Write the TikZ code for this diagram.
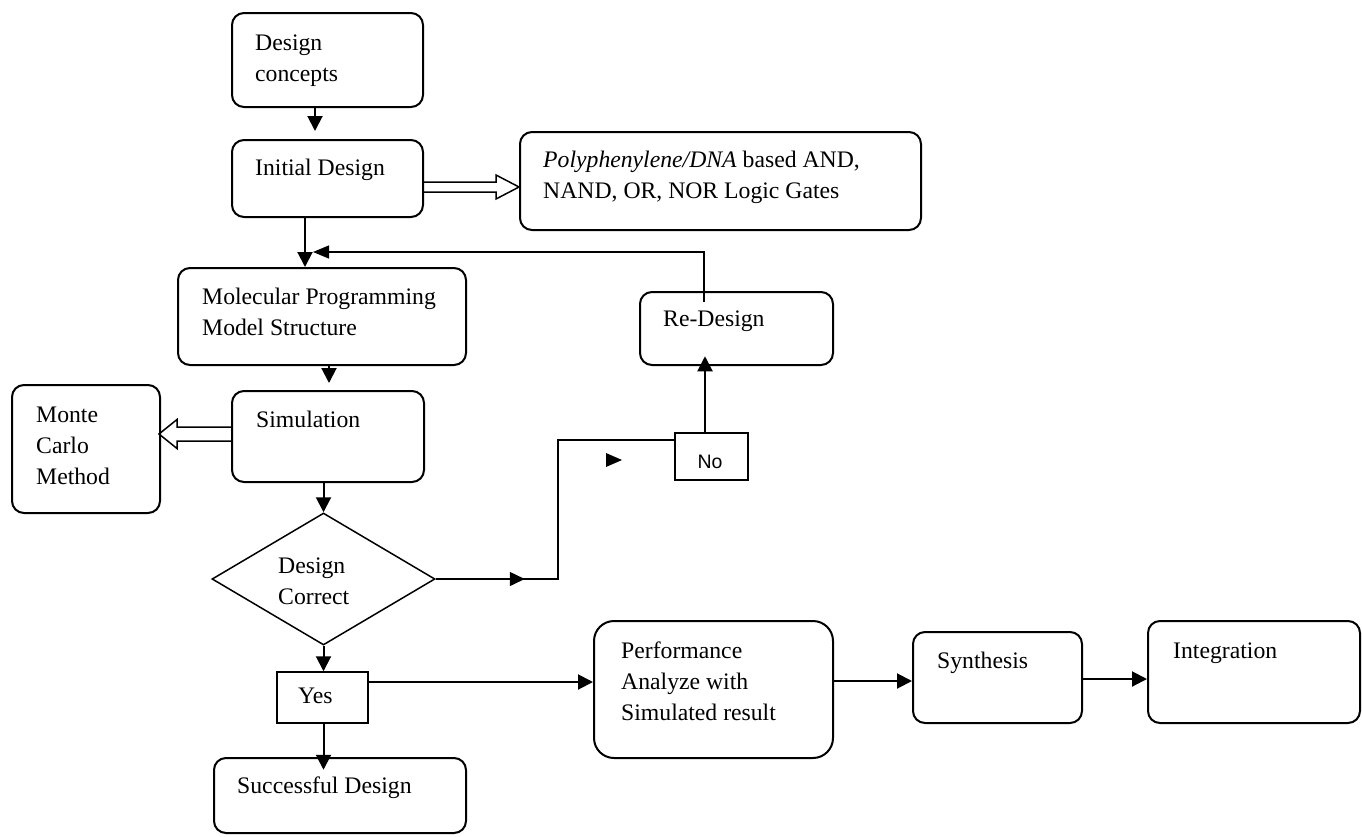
\documentclass[tikz,border=0pt]{standalone}
\usepackage{fontspec}
\setmainfont{Liberation Serif}
\newfontfamily\arialf{Liberation Sans}
\usetikzlibrary{arrows.meta,shapes.geometric,fit,calc}
\begin{document}
\begin{tikzpicture}[x=1pt,y=-1pt,
  box/.style={draw, line width=2pt, rounded corners=12pt, inner sep=0pt},
  sqbox/.style={draw, line width=1.5pt, inner sep=0pt},
  txt/.style={anchor=base west, inner sep=0pt, font=\fontsize{23.7}{31}\selectfont},
  arr/.style={line width=2pt, -{Triangle[length=15pt,width=15pt]}},
  thinarr/.style={line width=1.3pt, -{Triangle[length=16pt,width=13pt]}},
  line2/.style={line width=1.5pt},
  arr2/.style={line width=1.5pt, -{Triangle[length=15pt,width=14pt]}},
  dbl/.style={line width=1.5pt, line join=miter}]
\fill[white] (0,0) rectangle (1362,836);
\useasboundingbox (0,0) rectangle (1362,836);

% boxes
\node[box, fit={(232,13)(423,107)}] (dc) {};
\node[txt] (dct) at (255,50) {\begin{tabular}[t]{@{}l@{}}Design\\concepts\end{tabular}};
\node[box, fit={(232,140)(423,217)}] (init) {};
\node[txt] (initt) at (255,175) {Initial Design};
\node[box, fit={(520,132)(921,230)}] (poly) {};
\node[txt] (polyt) at (543,167) {\begin{tabular}[t]{@{}l@{}}\textit{Polyphenylene/DNA} based AND,\\NAND, OR, NOR Logic Gates\end{tabular}};
\node[box, fit={(178,268)(466,365)}] (mol) {};
\node[txt] (molt) at (202,304) {\begin{tabular}[t]{@{}l@{}}Molecular Programming\\Model Structure\end{tabular}};
\node[box, fit={(232,391)(424,482)}] (sim) {};
\node[txt] (simt) at (256,427) {Simulation};
\node[box, fit={(12,385)(160,513)}] (monte) {};
\node[txt] (montet) at (36,422) {\begin{tabular}[t]{@{}l@{}}Monte\\Carlo\\Method\end{tabular}};
\node[box, fit={(640,292)(833,365)}] (redes) {};
\node[txt] (redest) at (663,326) {Re-Design};
\node[sqbox, fit={(675,433)(748,480)}] (no) {};
\node[anchor=base, inner sep=0pt, font=\arialf\fontsize{19.5}{24}\selectfont] (not) at (710,468) {No};
\node[draw, line width=1.5pt, diamond, minimum width=223pt, minimum height=132pt, inner sep=0pt] (dia) at (323.5,579) {};
\node[txt] (diat) at (278,573) {\begin{tabular}[t]{@{}l@{}}Design\\Correct\end{tabular}};
\node[sqbox, fit={(277,672)(368,723)}] (yes) {};
\node[txt] (yest) at (298,703) {Yes};
\node[box, fit={(214,758)(466,833)}] (succ) {};
\node[txt] (succt) at (237,793) {Successful Design};
\node[box, rounded corners=20pt, fit={(594,621)(833,758)}] (perf) {};
\node[txt] (perft) at (621,658) {\begin{tabular}[t]{@{}l@{}}Performance\\Analyze with\\Simulated result\end{tabular}};
\node[box, fit={(913,632)(1082,723)}] (synth) {};
\node[txt] (syntht) at (937,668) {Synthesis};
\node[box, fit={(1148,621)(1360,723)}] (integ) {};
\node[txt] (integt) at (1173,658) {Integration};

% connectors
\draw[arr] ([xshift=-12.5]dc.south) -- ([xshift=-12.5,yshift=8]init.north);
\draw[arr] ([xshift=-22.5]init.south) -- ([xshift=-17]mol.north);
\draw[thinarr] ([xshift=-32.5,yshift=-11]redes.north) |- ([xshift=-9,yshift=15]mol.north);
\draw[arr] ([xshift=7]mol.south) -- ++(0,17);
\draw[arr] (sim.south -| dia.north) -- (dia.north);
\draw[dbl] ([yshift=2.5]sim.west) ++(0,-7) -- ++(-54,0) -- ++(0,-7.5) -- ++(-18,14.5) -- ++(18,14.5) -- ++(0,-7.5) -- ++(54,0);
\draw[dbl] ([yshift=-8.5]init.east) ++(0,-5) -- ++(72,0) -- ++(0,-7) -- ++(23,12) -- ++(-23,12) -- ++(0,-7) -- ++(-72,0);
\draw[line2] (dia.east) -- ++(122,0) |- ([yshift=16.5]no.west);
\draw[arr2] (dia.east) -- ++(89,0);
\fill (606,453) -- (622,460) -- (606,467) -- cycle;
\draw[arr] ([xshift=-6.5]no.north) -- ++(0,-76);
\draw[arr] (dia.south) -- (dia.south |- yes.north);
\draw[arr] (yes.south -| dia.south) -- ++(0,46);
\draw[arr] ([yshift=15.5]yes.east) -- ([yshift=15.5]yes.east -| perf.west);
\draw[arr] ([yshift=8.5]perf.east) -- ([yshift=8.5]perf.east -| synth.west);
\draw[arr] ([yshift=-1.5]synth.east) -- ([yshift=-1.5]synth.east -| integ.west);
\end{tikzpicture}
\end{document}
